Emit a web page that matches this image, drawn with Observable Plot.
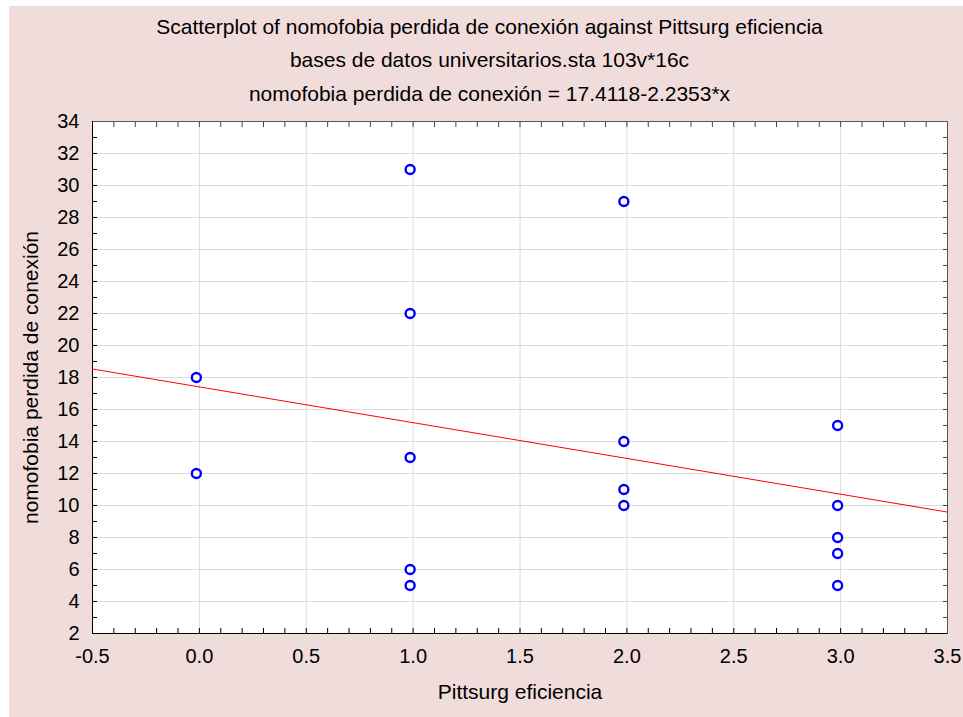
<!DOCTYPE html>
<html>
<head>
<meta charset="utf-8">
<script src="https://cdn.jsdelivr.net/npm/d3@7"></script>
<script src="https://cdn.jsdelivr.net/npm/@observablehq/plot@0.6"></script>
<style>
  html, body { margin: 0; padding: 0; background: #ffffff; }
  #page { position: absolute; left: 9px; top: 6px; width: 954px; height: 711px; background: #f1dcdc; }
  #wrap { position: absolute; left: 0; top: 0; width: 963px; height: 717px; font-family: "Liberation Sans", Arial, sans-serif; }
  .t { position: absolute; left: 16px; width: 947px; text-align: center; font-size: 21px; line-height: 24px; color: #000; white-space: nowrap; }
  #chart { position: absolute; left: 0; top: 110px; }
</style>
</head>
<body>
<div id="page"></div>
<div id="wrap">
  <div class="t" style="top:15px">Scatterplot of nomofobia perdida de conexión against Pittsurg eficiencia</div>
  <div class="t" style="top:48px">bases de datos universitarios.sta 103v*16c</div>
  <div class="t" style="top:82px">nomofobia perdida de conexión = 17.4118-2.2353*x</div>
  <div id="chart"></div>
</div>
<script>
// Data
const pittsurg = [0, 0, 1, 1, 1, 1, 1, 2, 2, 2, 2, 3, 3, 3, 3, 3];
const nomofobia = [18, 12, 31, 22, 13, 6, 5, 29, 14, 11, 10, 15, 10, 8, 7, 5];
const intercept = 17.4118;
const slope = -2.2353;
const xDomain = [-0.5, 3.5];
const yDomain = [2, 34];
const xTicks = [-0.5, 0, 0.5, 1, 1.5, 2, 2.5, 3, 3.5];
const yTicks = [2, 4, 6, 8, 10, 12, 14, 16, 18, 20, 22, 24, 26, 28, 30, 32, 34];
const xMinorTicks = d3.range(-5, 36).map(i => i / 10);
const yMinorTicks = d3.range(2, 35);
const xLabel = "Pittsurg eficiencia";
const yLabel = "nomofobia perdida de conexión";

const points = pittsurg.map((x, i) => ({x, y: nomofobia[i]}));
const fitLine = xDomain.map(x => ({x, y: intercept + slope * x}));

const font = "Liberation Sans, Arial, sans-serif";

const chart = Plot.plot({
  width: 963,
  height: 607,
  marginLeft: 92,
  marginRight: 16,
  marginTop: 11,
  marginBottom: 84,
  style: {background: "transparent", fontFamily: font, fontSize: "20px", color: "#000"},
  x: {domain: xDomain, label: null},
  y: {domain: yDomain, label: null},
  marks: [
    Plot.frame({fill: "white", stroke: null}),
    Plot.gridX(xTicks, {stroke: "#dcdcdc", strokeOpacity: 1, strokeWidth: 1}),
    Plot.gridY(yTicks, {stroke: "#dcdcdc", strokeOpacity: 1, strokeWidth: 1}),
    // minor inward ticks
    Plot.axisX(xMinorTicks, {anchor: "bottom", tickSize: -5, text: null, label: null, stroke: "#000"}),
    Plot.axisX(xMinorTicks, {anchor: "top", tickSize: -5, text: null, label: null, stroke: "#444"}),
    Plot.axisY(yMinorTicks, {anchor: "left", tickSize: -5, text: null, label: null, stroke: "#000"}),
    Plot.axisY(yMinorTicks, {anchor: "right", tickSize: -5, text: null, label: null, stroke: "#444"}),
    // labels
    Plot.axisX(xTicks, {anchor: "bottom", tickSize: 0, tickPadding: 15, tickFormat: d => d.toFixed(1), label: null, fontSize: 20}),
    Plot.axisY(yTicks, {anchor: "left", tickSize: 0, tickPadding: 13, tickFormat: d => String(d), label: null, fontSize: 20}),
    Plot.ruleY([yDomain[1]], {stroke: "#555"}),
    Plot.ruleX([xDomain[1]], {stroke: "#555"}),
    Plot.ruleY([yDomain[0]], {stroke: "#000"}),
    Plot.ruleX([xDomain[0]], {stroke: "#000"}),
    Plot.line(fitLine, {x: "x", y: "y", stroke: "#ff0000", strokeWidth: 1}),
    Plot.dot(points, {x: "x", y: "y", r: 4.5, stroke: "#0000ff", strokeWidth: 2.4, fill: "white", dx: -3}),
    Plot.text([xLabel], {frameAnchor: "bottom", dy: 65, fontSize: 21, fill: "#000"}),
    Plot.text([yLabel], {frameAnchor: "left", dx: -61, rotate: -90, textAnchor: "middle", fontSize: 21, fill: "#000"})
  ]
});
document.getElementById("chart").appendChild(chart);
</script>
</body>
</html>
